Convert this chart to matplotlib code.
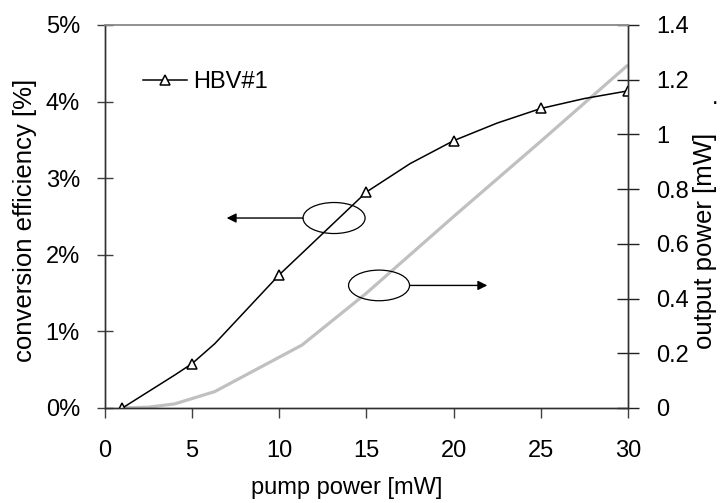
import matplotlib
matplotlib.use('Agg')
import matplotlib.pyplot as plt
from matplotlib.patches import Ellipse
from matplotlib.ticker import FuncFormatter

# conversion efficiency (left axis, %)
eff_x = [1, 4, 5, 6.3, 10, 11.3, 15, 17.5, 20, 22.5, 25, 27.5, 30]
eff_y = [0, 0.43, 0.58, 0.84, 1.74, 2.02, 2.82, 3.19, 3.49, 3.72, 3.91, 4.04, 4.14]
eff_markers = [0, 2, 4, 6, 8, 10, 12]  # points at 1, 5, 10, 15, 20, 25, 30

# output power (right axis, mW)
pow_x = [1, 2.5, 4, 6.3, 11.3, 15, 20, 25, 30]
pow_y = [0, 0.003, 0.015, 0.06, 0.23, 0.42, 0.70, 0.975, 1.254]

plt.rcParams['font.family'] = ['Liberation Sans', 'DejaVu Sans']
fs = 17

fig = plt.figure(figsize=(7.25, 5.03), dpi=100)
ax = fig.add_axes([0.1448, 0.1889, 0.7214, 0.7614])
ax2 = ax.twinx()
ax.set_zorder(ax2.get_zorder() + 1)
ax.patch.set_visible(False)

ax2.plot(pow_x, pow_y, color='#c0c0c0', lw=2.3, solid_capstyle='butt')
ax.plot(eff_x, eff_y, color='black', lw=1.1, marker='^', markevery=eff_markers,
        markersize=7, markerfacecolor='white', markeredgecolor='black',
        markeredgewidth=1.1, label='HBV#1')

ax.set_xlim(0, 30)
ax.set_ylim(0, 5)
ax2.set_ylim(0, 1.4)
ax.set_xticks(range(0, 31, 5))
ax.set_yticks(range(0, 6))
ax2.set_yticks([0, 0.2, 0.4, 0.6, 0.8, 1.0, 1.2, 1.4])
ax.yaxis.set_major_formatter(FuncFormatter(lambda v, p: '%d%%' % v))
ax2.yaxis.set_major_formatter(FuncFormatter(lambda v, p: '%g' % v))

ax.tick_params(axis='x', direction='out', length=7, width=1, labelsize=fs, pad=16,
               color='#404040')
ax.tick_params(axis='y', direction='inout', length=12, width=1, labelsize=fs, pad=12,
               color='#404040')
ax2.tick_params(axis='y', direction='inout', length=16, width=1, labelsize=fs, pad=12,
                color='#202020')

for a in (ax, ax2):
    for s in ('left', 'bottom', 'right'):
        a.spines[s].set_color('#303030')
        a.spines[s].set_linewidth(1)
    a.spines['top'].set_color('#909090')
    a.spines['top'].set_linewidth(1.2)

ax.set_xlabel('pump power [mW]', fontsize=fs, va='center')
ax.xaxis.set_label_coords(0.463, -0.209)
ax.set_ylabel('conversion efficiency [%]', fontsize=18.5, va='center')
ax.yaxis.set_label_coords(-0.153, 0.49)
ax2.set_ylabel('output power [mW]', fontsize=18.5, va='center')
ax2.yaxis.set_label_coords(1.147, 0.436)
ax2.text(1.166, 0.809, '.', transform=ax2.transAxes, fontsize=fs,
         ha='center', va='center')

# ellipses with arrows pointing to the matching axis
ax.add_patch(Ellipse((13.14, 2.48), 3.56, 0.405, facecolor='none',
                     edgecolor='black', lw=0.9))
ax.annotate('', xy=(6.98, 2.48), xytext=(11.36, 2.48),
            arrowprops=dict(arrowstyle='-|>', color='black', lw=1,
                            mutation_scale=14, shrinkA=0, shrinkB=0))
ax.add_patch(Ellipse((15.72, 1.60), 3.5, 0.40, facecolor='none',
                     edgecolor='black', lw=0.9))
ax.annotate('', xy=(21.93, 1.60), xytext=(17.47, 1.60),
            arrowprops=dict(arrowstyle='-|>', color='black', lw=1,
                            mutation_scale=14, shrinkA=0, shrinkB=0))

ax.legend(loc='center left', bbox_to_anchor=(0.0727, 0.851), frameon=False,
          fontsize=fs, handlelength=1.86, handletextpad=0.25,
          borderpad=0, borderaxespad=0)

fig.savefig('out.png', dpi=100)
